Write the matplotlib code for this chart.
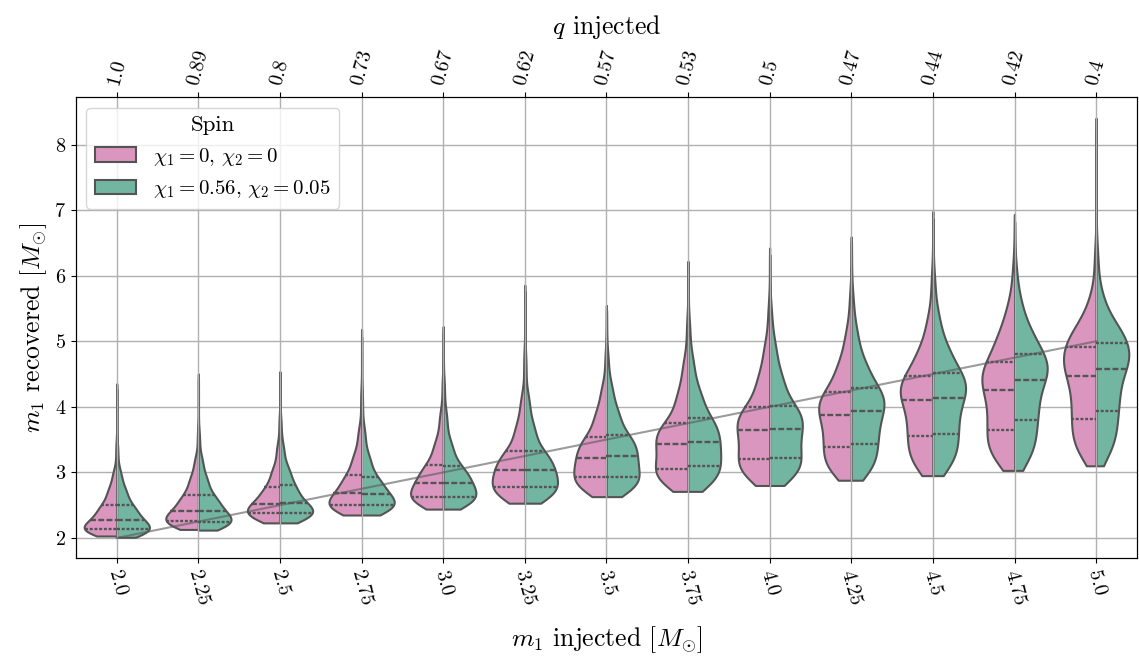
import numpy as np
import pandas as pd
import matplotlib
matplotlib.use("Agg")
import matplotlib.pyplot as plt
import seaborn as sns

# ---------------- data ----------------
m1_injected = [2.0, 2.25, 2.5, 2.75, 3.0, 3.25, 3.5, 3.75, 4.0, 4.25, 4.5, 4.75, 5.0]
m1_labels = ["2.0", "2.25", "2.5", "2.75", "3.0", "3.25", "3.5", "3.75", "4.0", "4.25", "4.5", "4.75", "5.0"]
q_labels = ["1.0", "0.89", "0.8", "0.73", "0.67", "0.62", "0.57", "0.53", "0.5", "0.47", "0.44", "0.42", "0.4"]
spin_labels = [r"$\chi_1 = 0,\, \chi_2 = 0$", r"$\chi_1 = 0.56,\, \chi_2 = 0.05$"]

# cumulative probability levels at which the recovered-m1 posteriors are read
probs = [0.0, 0.05, 0.25, 0.5, 0.75, 0.9, 0.97, 0.995, 1.0]

# non-spinning posteriors (pink)
ns_min  = [2.03, 2.13, 2.23, 2.35, 2.44, 2.53, 2.63, 2.71, 2.80, 2.88, 2.95, 3.03, 3.10]
ns_p05  = [2.07, 2.17, 2.28, 2.40, 2.50, 2.60, 2.72, 2.82, 2.92, 3.00, 3.10, 3.20, 3.30]
ns_q1   = [2.13, 2.26, 2.38, 2.50, 2.63, 2.78, 2.93, 3.05, 3.21, 3.38, 3.55, 3.65, 3.82]
ns_med  = [2.28, 2.41, 2.52, 2.68, 2.84, 3.03, 3.22, 3.43, 3.64, 3.87, 4.10, 4.25, 4.47]
ns_q3   = [2.51, 2.655, 2.77, 2.96, 3.12, 3.32, 3.54, 3.75, 3.99, 4.23, 4.47, 4.69, 4.92]
ns_p90  = [2.78, 2.95, 3.08, 3.30, 3.50, 3.75, 3.95, 4.25, 4.50, 4.70, 4.90, 5.15, 5.25]
ns_p97  = [3.05, 3.25, 3.45, 3.70, 3.95, 4.20, 4.35, 4.75, 5.00, 5.20, 5.40, 5.60, 5.70]
ns_p995 = [3.50, 3.70, 3.90, 4.30, 4.50, 4.90, 4.90, 5.40, 5.60, 5.80, 6.10, 6.20, 6.50]
ns_max  = [4.38, 4.53, 4.56, 5.21, 5.25, 5.89, 5.57, 6.25, 6.45, 6.62, 7.01, 6.96, 8.47]

# spinning posteriors (green)
sp_min  = [2.01, 2.12, 2.23, 2.35, 2.44, 2.53, 2.63, 2.71, 2.80, 2.88, 2.95, 3.03, 3.10]
sp_p05  = [2.05, 2.16, 2.28, 2.40, 2.50, 2.60, 2.72, 2.82, 2.92, 3.02, 3.12, 3.25, 3.35]
sp_q1   = [2.13, 2.25, 2.38, 2.50, 2.63, 2.78, 2.935, 3.10, 3.22, 3.44, 3.58, 3.80, 3.93]
sp_med  = [2.28, 2.41, 2.53, 2.67, 2.84, 3.03, 3.25, 3.46, 3.66, 3.93, 4.14, 4.41, 4.57]
sp_q3   = [2.51, 2.65, 2.81, 2.93, 3.10, 3.32, 3.57, 3.83, 4.02, 4.29, 4.52, 4.80, 4.98]
sp_p90  = [2.78, 2.95, 3.10, 3.28, 3.48, 3.75, 3.98, 4.28, 4.52, 4.72, 4.95, 5.20, 5.30]
sp_p97  = [3.05, 3.25, 3.45, 3.70, 3.95, 4.20, 4.38, 4.78, 5.02, 5.22, 5.45, 5.65, 5.75]
sp_p995 = [3.45, 3.65, 3.85, 4.25, 4.45, 4.85, 4.85, 5.35, 5.55, 5.75, 6.05, 6.15, 6.45]
sp_max  = [4.30, 4.45, 4.50, 5.10, 5.15, 5.80, 5.50, 6.15, 6.35, 6.55, 6.90, 6.85, 8.30]

ns_table = [ns_min, ns_p05, ns_q1, ns_med, ns_q3, ns_p90, ns_p97, ns_p995, ns_max]
sp_table = [sp_min, sp_p05, sp_q1, sp_med, sp_q3, sp_p90, sp_p97, sp_p995, sp_max]

# ---------------- rebuild posterior samples from the quantiles ----------------
N = 3000
u = (np.arange(N) + 0.5) / N
rows = []
for spin, table in zip(spin_labels, [ns_table, sp_table]):
    for i, lab in enumerate(m1_labels):
        qv = [lvl[i] for lvl in table]
        s = np.interp(u, probs, qv)
        rows.append(pd.DataFrame({"m1_inj": lab, "Spin": spin, "m1_rec": s}))
df = pd.concat(rows, ignore_index=True)

# ---------------- style ----------------
plt.rcParams.update({
    "font.family": "serif",
    "font.serif": ["cmr10"],
    "mathtext.fontset": "cm",
    "axes.unicode_minus": False,
    "axes.formatter.use_mathtext": True,
})

pink = "#e78ac3"
green = "#66c2a5"

fig = plt.figure(figsize=(11.39, 6.56), dpi=100)
ax = fig.add_axes([0.0667, 0.149, 0.9315, 0.703])
ax.grid(True, color="#b0b0b0", lw=1.0)
ax.set_axisbelow(True)

kw = dict(data=df, x="m1_inj", y="m1_rec", hue="Spin", order=m1_labels,
          hue_order=spin_labels, split=True, inner="quart", cut=0,
          palette=[pink, green], saturation=0.75, ax=ax)
try:
    sns.violinplot(**kw, density_norm="width", linewidth=1.5, linecolor="0.33",
                   bw_adjust=1.6, inner_kws=dict(linewidth=1.7))
except TypeError:
    sns.violinplot(**kw, scale="width", linewidth=1.5)

# vertical grid lines drawn over the violin bodies (as in the reference)
xt = ax.get_xticks()
ylim = ax.get_ylim()
ax.vlines(xt, ylim[0], ylim[1], color="#b0b0b0", lw=1.0, zorder=1.5)
ax.set_ylim(ylim)

# injected-value line
ax.plot(np.arange(len(m1_injected)), m1_injected, color="0.35", alpha=0.6, lw=1.5, zorder=5)

ax.set_xlim(-0.5, len(m1_labels) - 0.5)
ax.set_xticks(np.arange(len(m1_labels)))
ax.set_xticklabels(m1_labels, rotation=-75, fontsize=14.5)
ax.tick_params(axis="y", labelsize=14.5)
ax.set_xlabel(r"$m_1$ injected $[M_{\odot}]$", fontsize=18.5, labelpad=12)
ax.set_ylabel(r"$m_1$ recovered $[M_{\odot}]$", fontsize=18.5)

ax2 = ax.twiny()
ax2.set_xlim(ax.get_xlim())
ax2.set_xticks(np.arange(len(q_labels)))
ax2.set_xticklabels(q_labels, rotation=75, fontsize=14.5)
ax2.set_xlabel(r"$q$ injected", fontsize=18.5, labelpad=10)

handles, labels = ax.get_legend_handles_labels()
if ax.get_legend() is not None:
    ax.get_legend().remove()
ax.legend(handles, labels, title="Spin", loc="upper left", fontsize=15, title_fontsize=16.5)

fig.savefig("out.png", dpi=100)
